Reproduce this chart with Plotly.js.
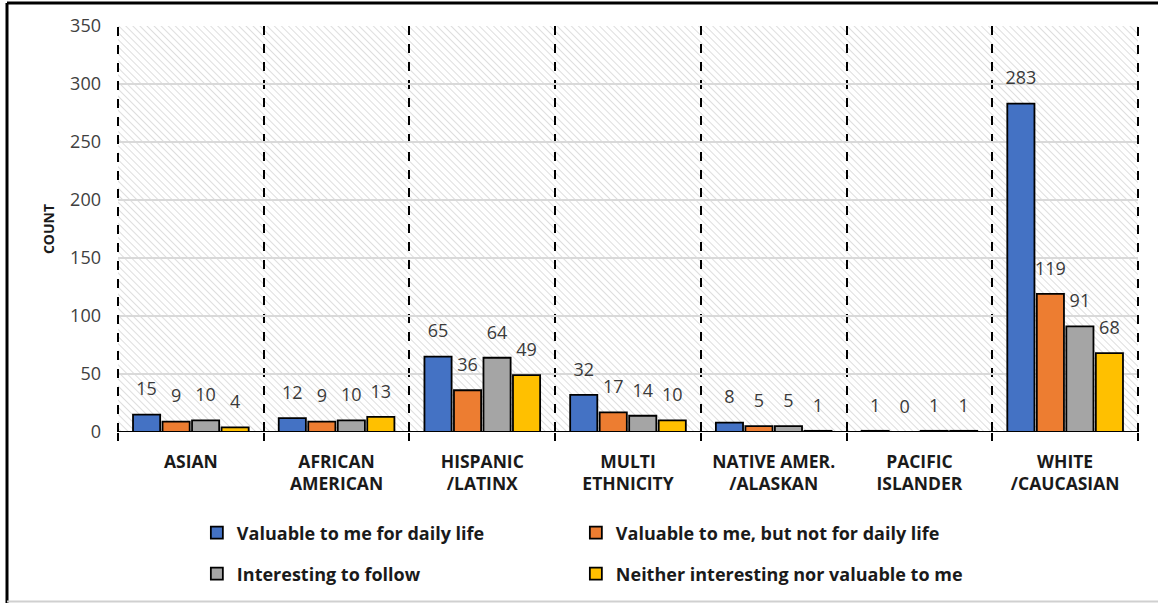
<!DOCTYPE html>
<html>
<head>
<meta charset="utf-8">
<script src="https://cdn.plot.ly/plotly-3.0.1.min.js"></script>
<style>
html,body{margin:0;padding:0;background:#fff;}
#chart{width:1158px;height:603px;}
</style>
</head>
<body>
<div id="chart"></div>
<script>
const categories = ["ASIAN<br>", "AFRICAN<br>AMERICAN", "HISPANIC<br>/LATINX", "MULTI<br>ETHNICITY", "NATIVE AMER.<br>/ALASKAN", "PACIFIC<br>ISLANDER", "WHITE<br>/CAUCASIAN"];
const seriesNames = ["Valuable to me for daily life", "Valuable to me, but not for daily life", "Interesting to follow", "Neither interesting nor valuable to me"];
const valuableDaily = [15, 12, 65, 32, 8, 1, 283];
const valuableNotDaily = [9, 9, 36, 17, 5, 0, 119];
const interesting = [10, 10, 64, 14, 5, 1, 91];
const neither = [4, 13, 49, 10, 1, 1, 68];
const colors = ["#4472C4", "#ED7D31", "#A5A5A5", "#FFC000"];
const yTicks = [0, 50, 100, 150, 200, 250, 300, 350];

const allSeries = [valuableDaily, valuableNotDaily, interesting, neither];
const FONT = "Open Sans, Noto Sans, sans-serif";
const legendIds = ["legend", "legend2", "legend3", "legend4"];

const barTraces = allSeries.map((vals, i) => ({
  type: "bar",
  name: seriesNames[i],
  x: categories,
  y: vals,
  offsetgroup: "g" + i,
  legend: legendIds[i],
  marker: {color: colors[i], line: {color: "#000", width: 1.8}},
  hoverinfo: "x+y+name"
}));

const labelTraces = allSeries.map((vals, i) => ({
  type: "scatter",
  mode: "markers+text",
  x: categories,
  y: vals,
  offsetgroup: "g" + i,
  showlegend: false,
  text: vals.map(String),
  textposition: "top center",
  marker: {size: 22, opacity: 0, color: colors[i]},
  cliponaxis: false,
  textfont: {family: FONT, size: 18, color: "#3a3a3a"},
  hoverinfo: "skip"
}));

const hatch = 'data:image/svg+xml;utf8,' + encodeURIComponent(
  '<svg xmlns="http://www.w3.org/2000/svg" width="1020" height="406">' +
  '<defs><pattern id="p" width="5" height="5" patternUnits="userSpaceOnUse" patternTransform="rotate(-45)">' +
  '<rect width="5" height="5" fill="#ffffff"/><line x1="0" y1="0" x2="0" y2="5" stroke="#d6d6d6" stroke-width="1.6"/></pattern></defs>' +
  '<rect width="1020" height="406" fill="url(#p)"/></svg>');

const legendCommon = {
  orientation: "h", xref: "container", yref: "container", xanchor: "left", yanchor: "middle",
  font: {family: FONT, size: 18, color: "#1a1a1a", weight: "bold"},
  itemwidth: 30, bgcolor: "rgba(0,0,0,0)"
};
const col1 = 0.170, col2 = 0.170 + 379 / 1158;
const row1 = 1 - 533 / 603, row2 = 1 - 574 / 603;

const layout = {
  width: 1158, height: 603,
  margin: {l: 118, r: 20, t: 26, b: 171},
  paper_bgcolor: "#fff",
  plot_bgcolor: "rgba(0,0,0,0)",
  barmode: "group",
  bargap: 0.19,
  bargroupgap: 0.08,
  scattermode: "group",
  scattergap: 0.19,
  font: {family: FONT, color: "#404040"},
  showlegend: true,
  legend: Object.assign({}, legendCommon, {x: col1, y: row1}),
  legend2: Object.assign({}, legendCommon, {x: col2, y: row1}),
  legend3: Object.assign({}, legendCommon, {x: col1, y: row2}),
  legend4: Object.assign({}, legendCommon, {x: col2, y: row2}),
  xaxis: {
    type: "category",
    tickson: "boundaries",
    showgrid: true, gridcolor: "#000", gridwidth: 2, griddash: "dash",
    ticks: "outside", ticklen: 8, tickcolor: "#000", tickwidth: 2,
    ticklabelstandoff: 17,
    showline: false,
    tickfont: {family: FONT, size: 17.5, color: "#1a1a1a", weight: "bold"},
    range: [-0.5, 6.5],
    zeroline: false,
    automargin: false
  },
  yaxis: {
    range: [0, 350],
    tickvals: yTicks,
    ticktext: yTicks.map(String),
    showgrid: true, gridcolor: "#d9d9d9", gridwidth: 1.5,
    zeroline: false,
    showline: false,
    ticks: "",
    ticklabelstandoff: 16,
    automargin: false,
    tickfont: {family: FONT, size: 18, color: "#404040"},
    title: {text: "COUNT", font: {family: FONT, size: 14, color: "#1a1a1a", weight: "bold"}, standoff: 12}
  },
  images: [{
    source: hatch, xref: "paper", yref: "paper", x: 0, y: 1, sizex: 1, sizey: 1,
    xanchor: "left", yanchor: "top", sizing: "stretch", layer: "below"
  }],
  shapes: [
    {type: "line", xref: "paper", yref: "y", x0: 0, x1: 1, y0: 0, y1: 0, line: {color: "#000", width: 2}, layer: "above"},
    {type: "line", xref: "paper", yref: "paper", x0: 0, x1: 0, y0: 0, y1: 1, line: {color: "#000", width: 2, dash: "dash"}},
    {type: "line", xref: "paper", yref: "paper", x0: 1, x1: 1, y0: 0, y1: 1, line: {color: "#000", width: 2, dash: "dash"}}
  ]
};

Plotly.newPlot("chart", barTraces.concat(labelTraces), layout, {displayModeBar: false, staticPlot: true}).then(() => {
  const svg = document.querySelector("#chart .main-svg");
  const ns = "http://www.w3.org/2000/svg";
  const add = (attrs) => { const l = document.createElementNS(ns, "line"); for (const k in attrs) l.setAttribute(k, attrs[k]); svg.appendChild(l); };
  add({x1: 7, y1: 3, x2: 1158, y2: 3, stroke: "#000", "stroke-width": 3});
  add({x1: 7, y1: 3, x2: 7, y2: 603, stroke: "#000", "stroke-width": 3});
  add({x1: 7, y1: 601.5, x2: 1158, y2: 601.5, stroke: "#d0d0d0", "stroke-width": 2});
});
</script>
</body>
</html>
